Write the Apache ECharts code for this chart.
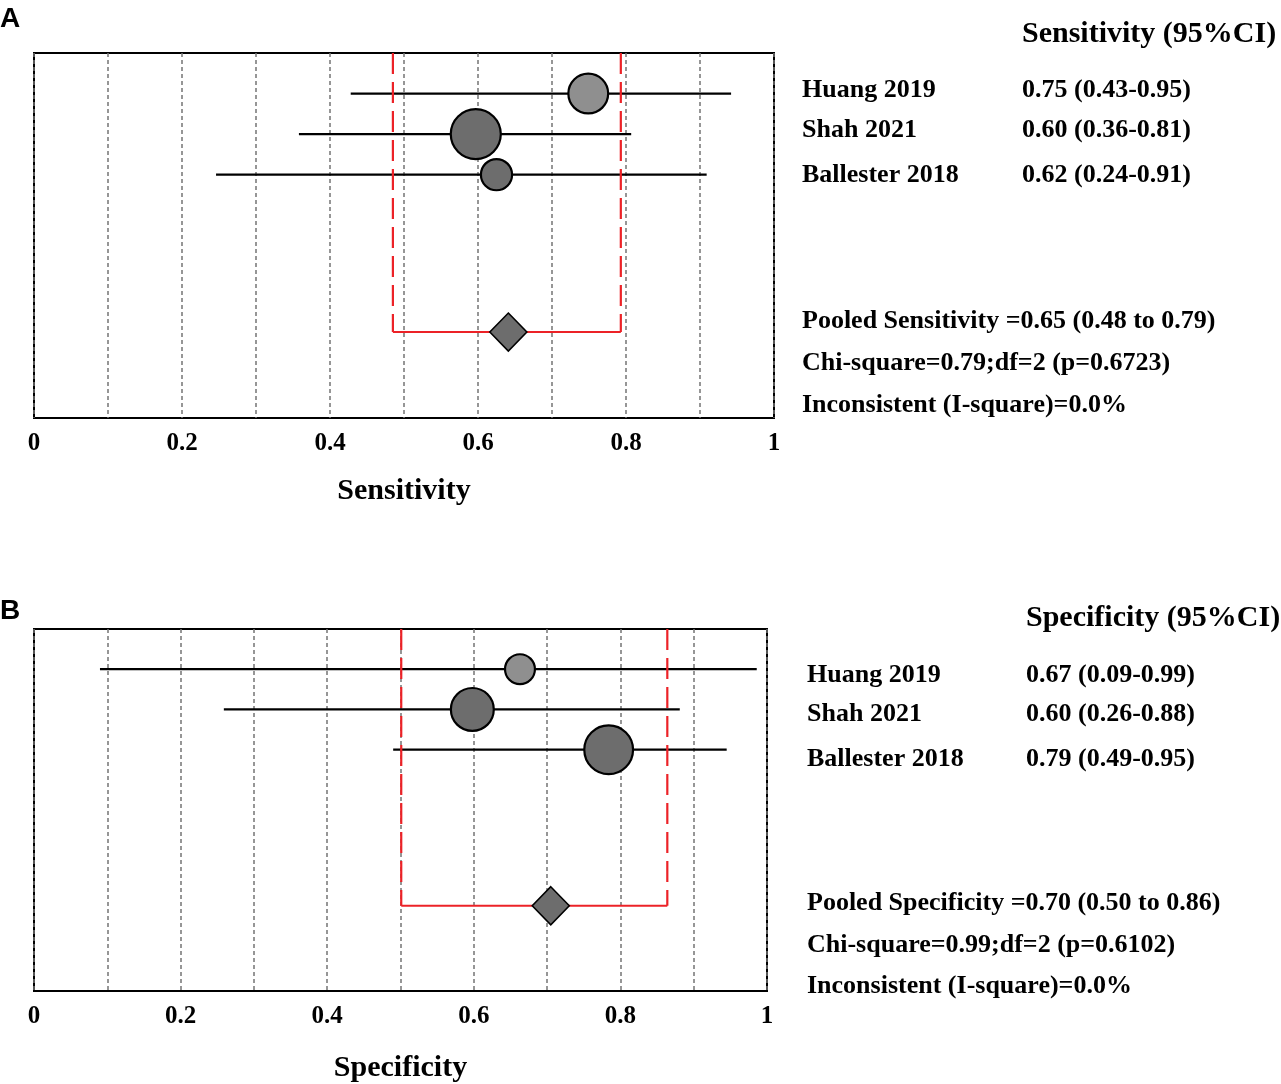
<!DOCTYPE html>
<html>
<head>
<meta charset="utf-8">
<title>Forest plots</title>
<script src="https://cdn.jsdelivr.net/npm/echarts@6/dist/echarts.min.js"></script>
<style>
  html, body { margin: 0; padding: 0; background: #fff; }
  #chart { width: 1281px; height: 1084px; }
</style>
</head>
<body>
<div id="chart"></div>
<script>
// studies (same order in both panels)
var studies = ['Huang 2019', 'Shah 2021', 'Ballester 2018'];
var studyRows = [1, 2, 3];
var pooledRow = 6.88;

// sensitivity: point, 95% CI, weight (%)
var sensPoint = [0.749, 0.597, 0.625];
var sensLow = [0.428, 0.358, 0.246];
var sensHigh = [0.942, 0.807, 0.909];
var sensWeight = [31, 49, 19];
var sensPooled = [0.641, 0.485, 0.793]; // estimate, low, high
var sensText = ['0.75 (0.43-0.95)', '0.60 (0.36-0.81)', '0.62 (0.24-0.91)'];
var sensStats = ['Pooled Sensitivity =0.65 (0.48 to 0.79)', 'Chi-square=0.79;df=2 (p=0.6723)', 'Inconsistent (I-square)=0.0%'];

// specificity
var specPoint = [0.663, 0.598, 0.784];
var specLow = [0.090, 0.259, 0.490];
var specHigh = [0.986, 0.881, 0.945];
var specWeight = [17.5, 36, 46.5];
var specPooled = [0.705, 0.501, 0.864];
var specText = ['0.67 (0.09-0.99)', '0.60 (0.26-0.88)', '0.79 (0.49-0.95)'];
var specStats = ['Pooled Specificity =0.70 (0.50 to 0.86)', 'Chi-square=0.99;df=2 (p=0.6102)', 'Inconsistent (I-square)=0.0%'];

var serif = '"Liberation Serif", "Times New Roman", serif';
var circleColors = ['#8f8f8f', '#6d6d6d', '#6d6d6d'];
var RED = '#ec2227';

var chart = echarts.init(document.getElementById('chart'), null, { renderer: 'canvas' });

function xAxisFor(gi, name, gap) {
  return {
    type: 'value', gridIndex: gi, min: 0, max: 1, interval: 0.1,
    name: name, nameLocation: 'middle', nameGap: gap,
    nameTextStyle: { fontFamily: serif, fontWeight: 'bold', fontSize: 30, color: '#000' },
    axisLine: { show: false }, axisTick: { show: false },
    axisLabel: {
      margin: 13, fontFamily: serif, fontWeight: 'bold', fontSize: 25, color: '#000',
      formatter: function (v) {
        var k = Math.round(v * 10);
        return k % 2 === 0 ? String(k / 10) : '';
      }
    },
    splitLine: { show: true, lineStyle: { color: '#747474', width: 1.5, type: [4, 3] } }
  };
}

function yAxisFor(gi) {
  return { type: 'value', gridIndex: gi, min: 0, max: 9, inverse: true, show: false, splitLine: { show: false } };
}

// whiskers for each study
function ciSeries(gi, low, high) {
  return {
    type: 'custom', xAxisIndex: gi, yAxisIndex: gi, z: 3,
    data: studyRows.map(function (r, i) { return [low[i], high[i], r]; }),
    renderItem: function (params, api) {
      var a = api.coord([api.value(0), api.value(2)]);
      var b = api.coord([api.value(1), api.value(2)]);
      return { type: 'line', shape: { x1: a[0], y1: a[1], x2: b[0], y2: b[1] },
        style: { stroke: '#000', lineWidth: 2.2 } };
    }
  };
}

// study estimates, size from weight
function pointSeries(gi, pts, weights) {
  return {
    type: 'scatter', xAxisIndex: gi, yAxisIndex: gi, z: 5, symbol: 'circle',
    data: studyRows.map(function (r, i) {
      return { value: [pts[i], r], symbolSize: 7.15 * Math.sqrt(weights[i]),
        itemStyle: { color: circleColors[i] } };
    }),
    itemStyle: { borderColor: '#000', borderWidth: 2.2, opacity: 1 }
  };
}

// pooled CI bracket: dashed verticals + solid bar
function pooledBracket(gi, pooled) {
  return {
    type: 'custom', xAxisIndex: gi, yAxisIndex: gi, z: 4,
    data: [[pooled[1], pooled[2], pooledRow]],
    renderItem: function (params, api) {
      var lo = api.value(0), hi = api.value(1), row = api.value(2);
      var lt = api.coord([lo, 0]), lb = api.coord([lo, row]);
      var rt = api.coord([hi, 0]), rb = api.coord([hi, row]);
      var dash = { stroke: RED, lineWidth: 2.2, lineDash: [21, 8] };
      return { type: 'group', children: [
        { type: 'line', shape: { x1: lt[0], y1: lt[1], x2: lb[0], y2: lb[1] }, style: dash },
        { type: 'line', shape: { x1: rt[0], y1: rt[1], x2: rb[0], y2: rb[1] }, style: dash },
        { type: 'line', shape: { x1: lb[0], y1: lb[1], x2: rb[0], y2: rb[1] }, style: { stroke: RED, lineWidth: 2.2 } }
      ] };
    }
  };
}

function pooledDiamond(gi, pooled) {
  return {
    type: 'scatter', xAxisIndex: gi, yAxisIndex: gi, z: 6, symbol: 'diamond', symbolSize: [37, 38],
    data: [[pooled[0], pooledRow]],
    itemStyle: { color: '#6d6d6d', borderColor: '#000', borderWidth: 1.6, opacity: 1 }
  };
}

// right-hand text table
function textBlock(opt) {
  var els = [];
  var f = 'bold 26px ' + serif;
  els.push({ type: 'text', x: opt.headX, y: opt.headY,
    style: { text: opt.head, font: 'bold 30px ' + serif, fill: '#000', verticalAlign: 'middle' } });
  studies.forEach(function (s, i) {
    els.push({ type: 'text', x: opt.labelX, y: opt.rowY[i],
      style: { text: s, font: f, fill: '#000', verticalAlign: 'middle' } });
    els.push({ type: 'text', x: opt.valX, y: opt.rowY[i],
      style: { text: opt.values[i], font: f, fill: '#000', verticalAlign: 'middle' } });
  });
  opt.stats.forEach(function (s, i) {
    els.push({ type: 'text', x: opt.labelX, y: opt.statY[i],
      style: { text: s, font: f, fill: '#000', verticalAlign: 'middle' } });
  });
  els.push({ type: 'text', x: 0, y: opt.letterY,
    style: { text: opt.letter, font: 'bold 28px "Liberation Sans", Arial, sans-serif', fill: '#000', verticalAlign: 'middle' } });
  return els;
}

var graphics = []
  .concat(textBlock({ head: 'Sensitivity (95%CI)', headX: 1022, headY: 34, labelX: 802, valX: 1022,
    rowY: [90, 130, 175], values: sensText, stats: sensStats, statY: [321, 363, 405], letter: 'A', letterY: 19 }))
  .concat(textBlock({ head: 'Specificity (95%CI)', headX: 1026, headY: 618, labelX: 807, valX: 1026,
    rowY: [675, 714, 759], values: specText, stats: specStats, statY: [903, 945, 986], letter: 'B', letterY: 611 }));

var option = {
  animation: false,
  backgroundColor: '#fff',
  grid: [
    { left: 34, top: 53, width: 740, height: 365, show: true, borderColor: '#000', borderWidth: 2, backgroundColor: 'transparent' },
    { left: 34, top: 629, width: 733, height: 362, show: true, borderColor: '#000', borderWidth: 2, backgroundColor: 'transparent' }
  ],
  xAxis: [xAxisFor(0, 'Sensitivity', 58), xAxisFor(1, 'Specificity', 62)],
  yAxis: [yAxisFor(0), yAxisFor(1)],
  series: [
    ciSeries(0, sensLow, sensHigh),
    pooledBracket(0, sensPooled),
    pointSeries(0, sensPoint, sensWeight),
    pooledDiamond(0, sensPooled),
    ciSeries(1, specLow, specHigh),
    pooledBracket(1, specPooled),
    pointSeries(1, specPoint, specWeight),
    pooledDiamond(1, specPooled)
  ],
  graphic: graphics
};

chart.setOption(option);
</script>
</body>
</html>
